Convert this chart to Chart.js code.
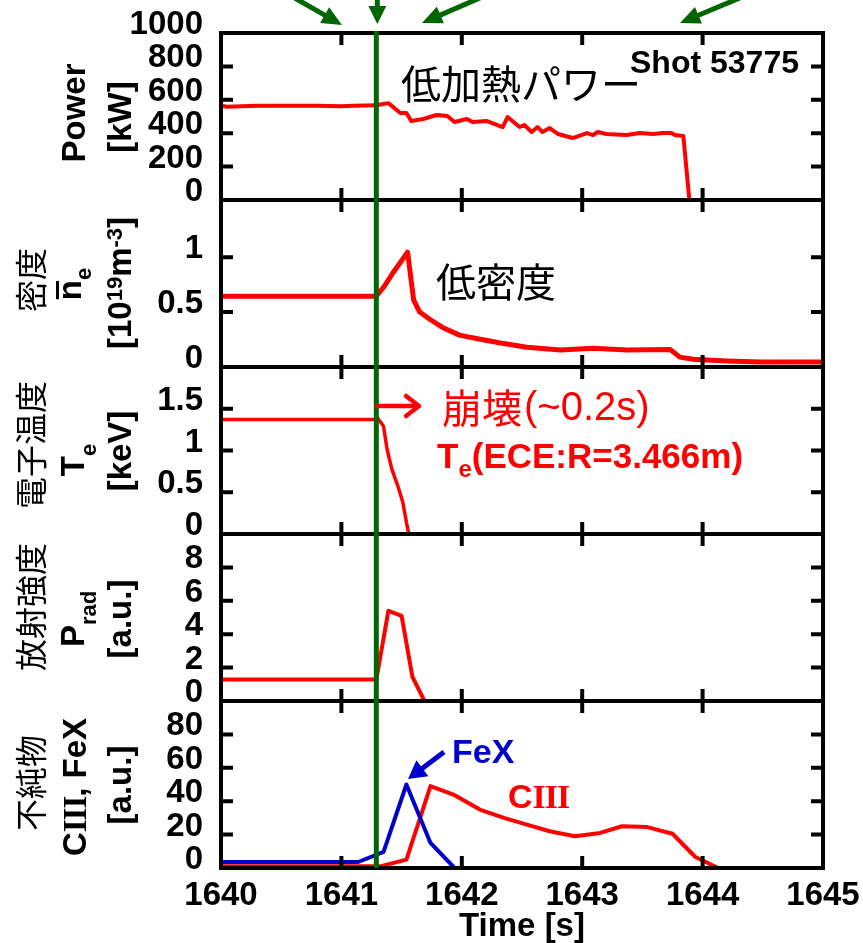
<!DOCTYPE html>
<html><head><meta charset="utf-8">
<script src="https://cdn.jsdelivr.net/npm/chart.js@4.4.1/dist/chart.umd.min.js"></script>
<style>html,body{margin:0;padding:0;background:#fff}canvas{display:block}</style>
</head><body>
<canvas id="c" width="863" height="943"></canvas>
<script>
// ---- data ----
const xTicks = [1640, 1641, 1642, 1643, 1644, 1645];
const xTickLabels = ['1640', '1641', '1642', '1643', '1644', '1645'];
const collapseTime = 1641.29;

const powerTicks = [0, 200, 400, 600, 800, 1000];
const powerTickLabels = ['0', '200', '400', '600', '800', '1000'];
const powerT = [1640, 1640.05, 1640.3, 1640.8, 1641.0, 1641.1, 1641.29, 1641.30, 1641.39, 1641.49, 1641.54, 1641.58, 1641.68, 1641.79, 1641.88, 1641.94, 1642.04, 1642.09, 1642.21, 1642.34, 1642.38, 1642.48, 1642.52, 1642.58, 1642.63, 1642.67, 1642.73, 1642.80, 1642.92, 1643.04, 1643.09, 1643.13, 1643.20, 1643.37, 1643.48, 1643.59, 1643.67, 1643.74, 1643.77, 1643.84, 1643.89];
const powerV = [565, 558, 565, 565, 562, 565, 567, 569, 580, 521, 521, 473, 485, 509, 503, 467, 485, 467, 473, 437, 497, 437, 449, 407, 437, 407, 431, 395, 371, 401, 389, 407, 395, 389, 401, 395, 401, 401, 389, 383, 0];

const densTicks = [0, 0.5, 1];
const densTickLabels = ['0', '0.5', '1'];
const densT = [1640, 1640.5, 1641.0, 1641.29, 1641.36, 1641.43, 1641.55, 1641.60, 1641.65, 1641.74, 1641.84, 1641.98, 1642.12, 1642.31, 1642.54, 1642.82, 1643.09, 1643.37, 1643.73, 1643.81, 1643.92, 1644.2, 1644.48, 1645];
const densV = [0.645, 0.645, 0.645, 0.645, 0.74, 0.86, 1.045, 0.61, 0.50, 0.43, 0.36, 0.29, 0.26, 0.22, 0.18, 0.155, 0.17, 0.155, 0.16, 0.09, 0.07, 0.055, 0.045, 0.045];

const teTicks = [0, 0.5, 1, 1.5];
const teTickLabels = ['0', '0.5', '1', '1.5'];
const teT = [1640, 1641.29, 1641.30, 1641.35, 1641.38, 1641.42, 1641.47, 1641.51, 1641.54, 1641.56];
const teV = [1.37, 1.37, 1.39, 1.29, 1.01, 0.77, 0.57, 0.38, 0.14, 0];

const pradTicks = [0, 2, 4, 6, 8];
const pradTickLabels = ['0', '2', '4', '6', '8'];
const pradT = [1640, 1641.29, 1641.39, 1641.50, 1641.59, 1641.69];
const pradV = [1.28, 1.28, 5.4, 5.1, 1.45, 0];

const impTicks = [0, 20, 40, 60, 80];
const impTickLabels = ['0', '20', '40', '60', '80'];
const fexT = [1640, 1641.14, 1641.35, 1641.54, 1641.74, 1641.94, 1644.15];
const fexV = [3.6, 3.6, 9.6, 50, 15, 0, 0];
const ciiiT = [1640, 1641.32, 1641.54, 1641.74, 1641.93, 1642.15, 1642.35, 1642.54, 1642.73, 1642.94, 1643.15, 1643.33, 1643.54, 1643.75, 1643.94, 1644.13, 1645];
const ciiiV = [1, 1, 5, 49, 44, 35, 30, 26, 22, 19, 21, 25, 24.5, 20.5, 6.6, 0, 0];

// ---- styling ----
const SANS = '"Liberation Sans", Arial, sans-serif';
const CJK = '"Noto Sans CJK JP", sans-serif';
const SERIF = '"Liberation Serif", "Times New Roman", serif';
const RED = '#ff0000', BLUE = '#0000cc', GREEN = '#006600';

const pts = (t, v) => t.map((x, i) => ({x: x, y: v[i]}));
const tickFont = {family: SANS, size: 33, weight: 'bold', lineHeight: 1.2};
const noPad = s => { s.paddingTop = 0; s.paddingBottom = 0; s.paddingLeft = 0; s.paddingRight = 0; };

function yAxis(min, max, ticks, labels, weight) {
  return {
    type: 'linear', position: 'left', stack: 'panels', stackWeight: 1, weight: weight,
    min: min, max: max,
    afterBuildTicks: s => { s.ticks = ticks.map(v => ({value: v})); },
    afterFit: s => { s.width = 221; noPad(s); },
    grid: {display: false, drawTicks: false},
    border: {display: false},
    ticks: {autoSkip: false, font: tickFont, color: '#000', padding: 18, labelOffset: -8,
      callback: (v, i) => labels[ticks.indexOf(v)] ?? ''}
  };
}

function rich(ctx, segs, x, y, align, rotate) {
  ctx.save();
  ctx.translate(x, y);
  if (rotate) ctx.rotate(-Math.PI / 2);
  ctx.textBaseline = 'alphabetic';
  ctx.textAlign = 'left';
  const widths = segs.map(s => { ctx.font = s.f; ctx.letterSpacing = s.ls || '0px'; return ctx.measureText(s.t).width; });
  const total = widths.reduce((a, b) => a + b, 0);
  let cx = align === 'center' ? -total / 2 : 0;
  segs.forEach((s, i) => {
    ctx.font = s.f; ctx.letterSpacing = s.ls || '0px';
    ctx.fillStyle = s.c || '#000';
    ctx.fillText(s.t, cx, s.dy || 0);
    if (s.over) {
      ctx.fillRect(cx + 1, s.over, widths[i] - 2, 3);
    }
    cx += widths[i];
  });
  ctx.restore();
}

function arrowHead(ctx, x0, y0, x1, y1, len, half, color, lw) {
  const dx = x1 - x0, dy = y1 - y0, L = Math.hypot(dx, dy);
  const ux = dx / L, uy = dy / L;
  const bx = x1 - ux * len, by = y1 - uy * len;
  ctx.strokeStyle = color; ctx.fillStyle = color; ctx.lineWidth = lw;
  ctx.beginPath(); ctx.moveTo(x0, y0); ctx.lineTo(bx + ux * 2, by + uy * 2); ctx.stroke();
  ctx.beginPath();
  ctx.moveTo(x1, y1);
  ctx.lineTo(bx - uy * half, by + ux * half);
  ctx.lineTo(bx + uy * half, by - ux * half);
  ctx.closePath(); ctx.fill();
}

const decor = {
  id: 'decor',
  afterDraw(chart) {
    const ctx = chart.ctx, xs = chart.scales.x, ca = chart.chartArea;
    const ids = ['yPow', 'yDen', 'yTe', 'yRad', 'yImp'];
    ctx.save();
    // frames and inward ticks
    ids.forEach(id => {
      const ys = chart.scales[id];
      ctx.strokeStyle = '#000'; ctx.lineWidth = 4; ctx.lineCap = 'butt';
      ctx.strokeRect(ca.left, ys.top, ca.right - ca.left, ys.bottom - ys.top);
      ctx.beginPath();
      xs.ticks.forEach(t => {
        if (t.value <= xs.min || t.value >= xs.max) return;
        const px = xs.getPixelForValue(t.value);
        ctx.moveTo(px, ys.top); ctx.lineTo(px, ys.top + 12);
        ctx.moveTo(px, ys.bottom); ctx.lineTo(px, ys.bottom - 12);
      });
      ys.ticks.forEach(t => {
        if (t.value <= ys.min || t.value >= ys.max) return;
        const py = ys.getPixelForValue(t.value);
        ctx.moveTo(ca.left, py); ctx.lineTo(ca.left + 12, py);
        ctx.moveTo(ca.right, py); ctx.lineTo(ca.right - 12, py);
      });
      ctx.stroke();
    });
    // green collapse line
    const gx = xs.getPixelForValue(collapseTime);
    ctx.strokeStyle = GREEN; ctx.lineWidth = 5;
    ctx.beginPath(); ctx.moveTo(gx, ca.top - 2); ctx.lineTo(gx, ca.bottom); ctx.stroke();
    // green arrows above
    arrowHead(ctx, 293, -3, 342, 25, 20, 9, GREEN, 5);
    arrowHead(ctx, gx + 1, -3, gx + 1, 24, 18, 9, GREEN, 5);
    arrowHead(ctx, 482, -3, 422, 23, 20, 9, GREEN, 5);
    arrowHead(ctx, 742, -3, 680, 23, 20, 9, GREEN, 5);

    // y-axis titles (rotated)
    const B33 = 'bold 33px ' + SANS, B22 = 'bold 22px ' + SANS, J = '32px ' + CJK;
    rich(ctx, [{t: 'Power', f: B33}], 85, 113, 'center', true);
    rich(ctx, [{t: '[kW]', f: B33}], 131, 117, 'center', true);

    rich(ctx, [{t: '密度', f: J}], 43, 280, 'center', true);
    rich(ctx, [{t: 'n', f: B33, over: -25}, {t: 'e', f: B22, dy: 10}], 81, 284, 'center', true);
    rich(ctx, [{t: '[10', f: B33}, {t: '19', f: B22, dy: -9}, {t: 'm', f: B33}, {t: '-3', f: B22, dy: -9}, {t: ']', f: B33}], 131, 283, 'center', true);

    rich(ctx, [{t: '電子温度', f: J}], 43, 445, 'center', true);
    rich(ctx, [{t: 'T', f: B33}, {t: 'e', f: B22, dy: 12}], 84, 460, 'center', true);
    rich(ctx, [{t: '[keV]', f: B33}], 131, 451, 'center', true);

    rich(ctx, [{t: '放射強度', f: J}], 43, 607, 'center', true);
    rich(ctx, [{t: 'P', f: B33}, {t: 'rad', f: B22, dy: 12}], 84, 619, 'center', true);
    rich(ctx, [{t: '[a.u.]', f: B33}], 131, 619, 'center', true);

    rich(ctx, [{t: '不純物', f: J}], 43, 783, 'center', true);
    rich(ctx, [{t: 'C', f: B33}, {t: 'III', f: 'bold 33px ' + SERIF, ls: '-1px'}, {t: ', FeX', f: B33}], 86, 787, 'center', true);
    rich(ctx, [{t: '[a.u.]', f: B33}], 131, 785, 'center', true);

    // annotations
    ctx.textBaseline = 'middle'; ctx.textAlign = 'left';
    ctx.fillStyle = '#000'; ctx.font = '40px ' + CJK;
    ctx.fillText('低加熱パワー', 401, 84);
    ctx.fillText('低密度', 436, 282);
    ctx.fillStyle = RED;
    ctx.fillText('崩壊', 442, 408);
    ctx.font = '40px ' + SANS;
    ctx.fillText('(~0.2s)', 442 + 2 * 40 + 2, 409);
    rich(ctx, [{t: 'Shot 53775', f: 'bold 32px ' + SANS}], 630, 73, 'left', false);
    rich(ctx, [{t: 'T', f: 'bold 35px ' + SANS, c: RED}, {t: 'e', f: 'bold 24px ' + SANS, c: RED, dy: 9}, {t: '(ECE:R=3.466m)', f: 'bold 35px ' + SANS, c: RED}], 437, 468, 'left', false);
    rich(ctx, [{t: 'FeX', f: 'bold 34px ' + SANS, c: BLUE}], 452, 763, 'left', false);
    rich(ctx, [{t: 'C', f: 'bold 34px ' + SANS, c: RED}, {t: 'III', f: 'bold 34px ' + SERIF, c: RED, ls: '-1px'}], 508, 808, 'left', false);

    // red open arrow
    ctx.strokeStyle = RED; ctx.lineWidth = 4.5; ctx.lineCap = 'round'; ctx.lineJoin = 'round';
    ctx.beginPath(); ctx.moveTo(gx + 1, 406); ctx.lineTo(418, 406); ctx.stroke();
    ctx.beginPath(); ctx.moveTo(406, 396); ctx.lineTo(419, 406); ctx.lineTo(406, 416); ctx.stroke();
    // blue arrow to FeX peak
    ctx.lineCap = 'butt';
    arrowHead(ctx, 444, 752, 408, 779, 18, 10, BLUE, 5);
    ctx.restore();
  }
};

const lineDs = (label, data, axis, color, width) => ({
  label: label, data: data, yAxisID: axis, borderColor: color, borderWidth: width,
  pointRadius: 0, tension: 0, fill: false, borderJoinStyle: 'round', borderCapStyle: 'round'
});

new Chart(document.getElementById('c'), {
  type: 'line',
  data: {
    datasets: [
      lineDs('FeX', pts(fexT, fexV), 'yImp', BLUE, 4),
      lineDs('CIII', pts(ciiiT, ciiiV), 'yImp', RED, 4),
      lineDs('Power', pts(powerT, powerV), 'yPow', RED, 4),
      lineDs('Density', pts(densT, densV), 'yDen', RED, 5),
      lineDs('Te', pts(teT, teV), 'yTe', RED, 3.5),
      lineDs('Prad', pts(pradT, pradV), 'yRad', RED, 4)
    ]
  },
  options: {
    responsive: false, animation: false, devicePixelRatio: 1,
    layout: {padding: {top: 33, right: 40, left: 0, bottom: 0}},
    plugins: {legend: {display: false}, tooltip: {enabled: false}},
    scales: {
      x: {
        type: 'linear', position: 'bottom', min: 1640, max: 1645,
        afterBuildTicks: s => { s.ticks = xTicks.map(v => ({value: v})); },
        afterFit: s => { s.height = 75; noPad(s); },
        grid: {display: false, drawTicks: false}, border: {display: false},
        ticks: {autoSkip: false, maxRotation: 0, font: tickFont, color: '#000', padding: 8,
          callback: v => xTickLabels[xTicks.indexOf(v)] ?? ''},
        title: {display: true, text: 'Time [s]', color: '#000', font: {family: SANS, size: 33, weight: 'bold', lineHeight: 1.0}, padding: {top: 0, bottom: 0}}
      },
      yPow: yAxis(0, 1000, powerTicks, powerTickLabels, 5),
      yDen: yAxis(0, 1.52, densTicks, densTickLabels, 4),
      yTe: yAxis(0, 2, teTicks, teTickLabels, 3),
      yRad: yAxis(0, 10, pradTicks, pradTickLabels, 2),
      yImp: yAxis(0, 100, impTicks, impTickLabels, 1)
    }
  },
  plugins: [decor]
});
</script>
</body></html>
